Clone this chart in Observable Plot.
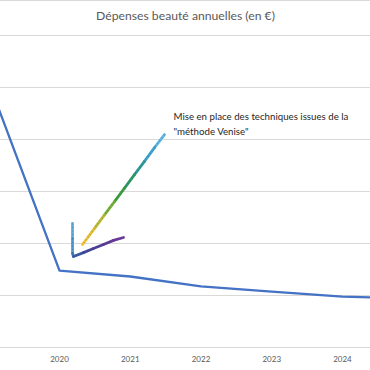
<!DOCTYPE html>
<html>
<head>
<meta charset="utf-8">
<script src="https://cdn.jsdelivr.net/npm/d3@7"></script>
<script src="https://cdn.jsdelivr.net/npm/@observablehq/plot@0.6"></script>
<style>
  html, body { margin: 0; padding: 0; background: #fff; }
</style>
</head>
<body>
<div id="chart"></div>
<script>
// ---- data ----
const title = "Dépenses beauté annuelles (en €)";
const years = [2019, 2020, 2021, 2022, 2023, 2024, 2025];
const spending = [1020, 296, 273, 235, 215, 196, 187];
const tickYears = [2020, 2021, 2022, 2023, 2024];
const gridValues = [0, 200, 400, 600, 800, 1000, 1200];
const xDomain = [2019.166, 2024.396];
const yDomain = [-88.5, 1334.6];

// hand-drawn arrow (data coordinates) and its colours
const shaftYears  = [2021.484, 2021.343, 2021.201, 2021.060, 2020.919, 2020.777, 2020.636, 2020.495, 2020.410, 2020.325];
const shaftValues = [819, 769, 716, 665, 613, 561, 510, 458, 427, 396];
const shaftColors = ["#5fb6e2", "#3fa3cf", "#2f9a9a", "#2f9a66", "#3c9e40", "#78b038", "#b8bc34", "#e4c030", "#f2c232"];
const headYears  = [2020.184, 2020.184, 2020.184, 2020.198, 2020.339, 2020.480, 2020.622, 2020.763, 2020.905];
const headValues = [477, 419, 362, 350, 365, 381, 396, 412, 423];
const headColors = ["#5aaee0", "#4a9dd4", "#3d7fbe", "#3b5aa0", "#44479a", "#523f98", "#5f3b98", "#6b3a9a"];
const annotation = "Mise en place des techniques issues de la\n\"méthode Venise\"";
const annotationYear = 2021.611;
const annotationValue = 915;

// ---- build segments ----
function segments(xs, ys, cs) {
  const out = [];
  for (let i = 0; i < xs.length - 1; i++) {
    out.push({x1: xs[i], y1: ys[i], x2: xs[i + 1], y2: ys[i + 1], c: cs[i]});
  }
  return out;
}
const arrowSegs = segments(shaftYears, shaftValues, shaftColors)
  .concat(segments(headYears, headValues, headColors));
const series = years.map((y, i) => ({year: y, value: spending[i]}));

const chart = Plot.plot({
  width: 370,
  height: 370,
  margin: 0,
  style: {fontFamily: "Lato, 'Liberation Sans', sans-serif", background: "#fff"},
  x: {domain: xDomain, axis: null},
  y: {domain: yDomain, axis: null},
  marks: [
    Plot.ruleY([yDomain[1]], {stroke: "#d9d9d9", strokeWidth: 1}),
    Plot.ruleY(gridValues, {stroke: "#d9d9d9", strokeWidth: 1}),
    Plot.text([title], {frameAnchor: "top", lineAnchor: "middle", dy: 16, fontSize: 12.2, fill: "#595959"}),
    Plot.text(tickYears, {x: d => d, frameAnchor: "bottom", lineAnchor: "middle", dy: -11, fontSize: 8, fill: "#595959", text: d => String(d)}),
    Plot.line(series, {x: "year", y: "value", stroke: "#4472C4", strokeWidth: 2.3, clip: true}),
    Plot.link(arrowSegs, {x1: "x1", y1: "y1", x2: "x2", y2: "y2", stroke: "c", strokeWidth: 2.8, strokeLinecap: "round"}),
    Plot.link(arrowSegs, {x1: "x1", y1: "y1", x2: "x2", y2: "y2", stroke: "#1f3550", strokeOpacity: 0.25, strokeWidth: 1.2, strokeDasharray: "1,2.5"}),
    Plot.text([annotation], {x: () => annotationYear, y: () => annotationValue, textAnchor: "start", lineAnchor: "top", fontSize: 9.7, lineHeight: 1.55, fill: "#262626"})
  ]
});
document.getElementById("chart").appendChild(chart);
</script>
</body>
</html>
